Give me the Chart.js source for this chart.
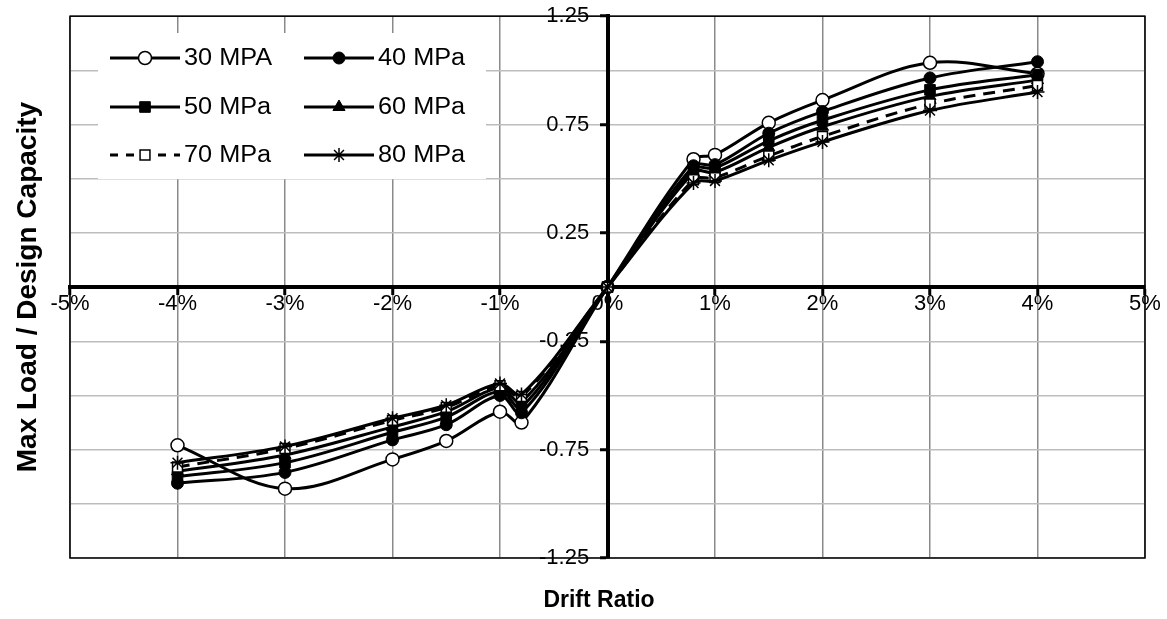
<!DOCTYPE html>
<html>
<head>
<meta charset="utf-8">
<script src="https://cdn.jsdelivr.net/npm/chart.js@4.4.0/dist/chart.umd.min.js"></script>
<style>
  html, body { margin: 0; padding: 0; background: #fff; }
  #wrap { width: 1167px; height: 619px; }
</style>
</head>
<body>
<div id="wrap"><canvas id="c" width="1167" height="619"></canvas></div>
<script>
// ---- data ----
const driftRatio = [-4, -3, -2, -1.5, -1, -0.8, 0, 0.8, 1, 1.5, 2, 3, 4];
const seriesLabels = ['30 MPA', '40 MPa', '50 MPa', '60 MPa', '70 MPa', '80 MPa'];
const mpa30 = [-0.73, -0.93, -0.795, -0.71, -0.575, -0.625, 0, 0.59, 0.61, 0.758, 0.863, 1.035, 0.985];
const mpa40 = [-0.905, -0.855, -0.705, -0.635, -0.50, -0.58, 0, 0.56, 0.565, 0.71, 0.81, 0.965, 1.04];
const mpa50 = [-0.875, -0.81, -0.67, -0.60, -0.48, -0.555, 0, 0.545, 0.55, 0.675, 0.77, 0.91, 0.98];
const mpa60 = [-0.85, -0.775, -0.645, -0.575, -0.465, -0.53, 0, 0.53, 0.53, 0.645, 0.74, 0.88, 0.955];
const mpa70 = [-0.83, -0.745, -0.615, -0.555, -0.455, -0.505, 0, 0.495, 0.505, 0.605, 0.695, 0.845, 0.93];
const mpa80 = [-0.81, -0.735, -0.605, -0.545, -0.445, -0.495, 0, 0.48, 0.49, 0.585, 0.67, 0.815, 0.90];
const xTickValues = [-5, -4, -3, -2, -1, 0, 1, 2, 3, 4, 5];
const yLabelledTicks = [-1.25, -0.75, -0.25, 0.25, 0.75, 1.25];
const xTitle = 'Drift Ratio';
const yTitle = 'Max Load / Design Capacity';

const FONT = '"Liberation Sans", Arial, sans-serif';

const styles = [
  { pointStyle: 'circle', radius: 6.5, bg: '#fff', bw: 1.5, dash: [] },
  { pointStyle: 'circle', radius: 6, bg: '#000', bw: 1, dash: [] },
  { pointStyle: 'rect', radius: 7.5, bg: '#000', bw: 1, dash: [] },
  { pointStyle: 'triangle', radius: 7, bg: '#000', bw: 1, dash: [] },
  { pointStyle: 'rect', radius: 7, bg: '#fff', bw: 1.5, dash: [12, 8] },
  { pointStyle: 'star', radius: 7, bg: '#000', bw: 1.5, dash: [] }
];
const seriesValues = [mpa30, mpa40, mpa50, mpa60, mpa70, mpa80];

const datasets = seriesValues.map((vals, i) => ({
  label: seriesLabels[i],
  data: driftRatio.map((x, j) => ({ x: x, y: vals[j] })),
  borderColor: '#000',
  borderWidth: 3,
  borderDash: styles[i].dash,
  tension: 0.35,
  pointStyle: styles[i].pointStyle,
  pointRadius: styles[i].radius,
  pointBackgroundColor: styles[i].bg,
  pointBorderColor: '#000',
  pointBorderWidth: styles[i].bw,
  order: seriesValues.length - i,
  fill: false
}));

const frame = {
  id: 'frame',
  beforeDatasetsDraw(chart) {
    const { ctx, chartArea: a } = chart;
    ctx.save();
    ctx.strokeStyle = '#000';
    ctx.lineWidth = 1.5;
    ctx.strokeRect(a.left, a.top, a.right - a.left, a.bottom - a.top);
    ctx.restore();
  }
};

const titles = {
  id: 'titles',
  afterDraw(chart) {
    const { ctx, chartArea: a } = chart;
    ctx.save();
    ctx.fillStyle = '#000';
    ctx.font = 'bold 23px ' + FONT;
    ctx.textAlign = 'center';
    ctx.textBaseline = 'middle';
    ctx.fillText(xTitle, 599, 601);
    ctx.font = 'bold 28px ' + FONT;
    ctx.translate(28, (a.top + a.bottom) / 2);
    ctx.rotate(-Math.PI / 2);
    ctx.fillText(yTitle, 0, 0);
    ctx.restore();
  }
};

const legendBox = {
  id: 'legendBox',
  afterDraw(chart) {
    const { ctx } = chart;
    const box = { x: 98, y: 33, w: 388, h: 146 };
    ctx.save();
    ctx.fillStyle = '#fff';
    ctx.fillRect(box.x, box.y, box.w, box.h);
    const cols = [110, 304];
    const rows = [58, 107, 155];
    chart.data.datasets.forEach((ds, i) => {
      const cx = cols[i % 2];
      const cy = rows[Math.floor(i / 2)];
      ctx.strokeStyle = '#000';
      ctx.lineWidth = 3;
      ctx.setLineDash(ds.borderDash && ds.borderDash.length ? [8, 8] : []);
      ctx.beginPath();
      ctx.moveTo(cx, cy);
      ctx.lineTo(cx + 70, cy);
      ctx.stroke();
      ctx.setLineDash([]);
      ctx.fillStyle = ds.pointBackgroundColor;
      ctx.strokeStyle = '#000';
      ctx.lineWidth = ds.pointBorderWidth;
      Chart.helpers.drawPoint(ctx, {
        pointStyle: ds.pointStyle, radius: ds.pointRadius, rotation: 0, borderWidth: ds.pointBorderWidth
      }, cx + 35, cy);
      ctx.fillStyle = '#000';
      ctx.font = '23px ' + FONT;
      ctx.textAlign = 'left';
      ctx.textBaseline = 'middle';
      ctx.save();
      ctx.translate(cx + 74, cy + 1);
      ctx.scale(1.1, 1);
      ctx.fillText(ds.label, 0, 0);
      ctx.restore();
    });
    ctx.restore();
  }
};

new Chart(document.getElementById('c'), {
  type: 'line',
  data: { datasets: datasets },
  plugins: [frame, titles, legendBox],
  options: {
    responsive: false,
    animation: false,
    devicePixelRatio: 1,
    layout: { padding: { left: 70, right: 22, top: 14, bottom: 61 } },
    plugins: { legend: { display: false }, tooltip: { enabled: false } },
    scales: {
      x: {
        type: 'linear',
        position: { y: 0 },
        min: -5, max: 5,
        afterBuildTicks(scale) { scale.ticks = xTickValues.map(v => ({ value: v })); },
        grid: { color: '#8a8a8a', lineWidth: 1.5, drawTicks: true, tickLength: 6, tickColor: '#000', tickWidth: 3 },
        border: { display: true, color: '#000', width: 4 },
        ticks: {
          color: '#000', font: { family: FONT, size: 22 }, padding: -2, maxRotation: 0, autoSkip: false,
          callback: v => v + '%'
        }
      },
      y: {
        type: 'linear',
        position: { x: 0 },
        min: -1.25, max: 1.25,
        ticks: {
          stepSize: 0.25, color: '#000', font: { family: FONT, size: 22 }, autoSkip: false,
          callback: v => (yLabelledTicks.some(t => Math.abs(t - v) < 1e-6) ? v.toFixed(2) + '   ' : '')
        },
        grid: {
          color: '#bdbdbd', lineWidth: 1.5, drawTicks: true, tickLength: 6, tickWidth: 3,
          tickColor: ctx => (ctx.tick && yLabelledTicks.some(t => Math.abs(t - ctx.tick.value) < 1e-6)) ? '#000' : 'rgba(0,0,0,0)'
        },
        border: { display: true, color: '#000', width: 4 }
      }
    }
  }
});
</script>
</body>
</html>
